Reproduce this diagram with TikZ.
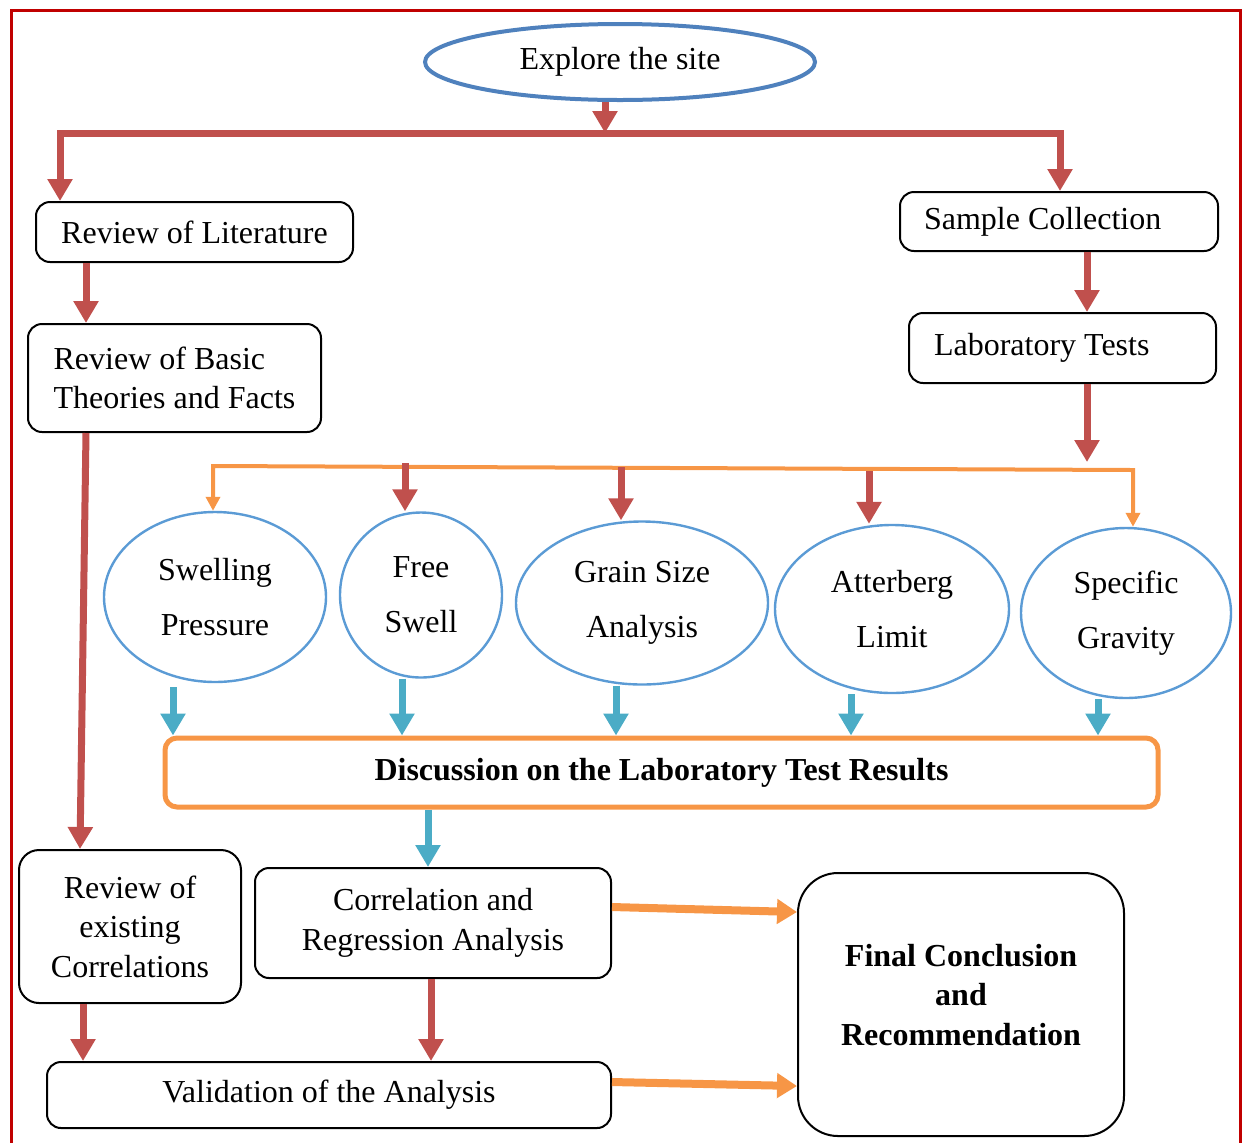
\documentclass[tikz,border=0pt]{standalone}
\usepackage{fontspec}
\setmainfont{Liberation Serif}
\usetikzlibrary{arrows.meta,positioning,shapes.geometric,calc}
\definecolor{framered}{HTML}{C00000}
\definecolor{flowred}{HTML}{C0504D}
\definecolor{floworange}{HTML}{F79646}
\definecolor{flowblue}{HTML}{4BACC6}
\definecolor{ringblue}{HTML}{5B9BD5}
\definecolor{siteblue}{HTML}{4F81BD}

\begin{document}
\begin{tikzpicture}[
  x=0.5pt, y=-0.5pt,
  font=\fontsize{16}{19.75}\selectfont,
  box/.style={rectangle, rounded corners=7pt, draw=black, line width=1pt,
    align=center, inner sep=0pt},
  bubble/.style={ellipse, draw=ringblue, line width=1.2pt, align=center,
    inner sep=0pt, font=\fontsize{16}{27.5}\selectfont},
  redarr/.style={draw=flowred, line width=3.5pt,
    -{Triangle[width=12pt,length=11pt]}},
  bluearr/.style={draw=flowblue, line width=3.5pt,
    -{Triangle[width=12pt,length=11pt]}},
  orarr/.style={draw=floworange, line width=4pt,
    -{Triangle[width=12pt,length=10pt]}},
  orline/.style={draw=floworange, line width=2pt,
    {Triangle[width=7pt,length=7pt]}-{Triangle[width=7pt,length=7pt]}},
]
  \useasboundingbox (0,0) rectangle (1246,1142);
  \draw[framered, line width=1.5pt] (11,1160) -- (11,10) -- (1240,10) -- (1240,1160);

  % top row
  \node[ellipse, draw=siteblue, line width=2pt, minimum width=195pt,
    minimum height=38pt] (site) at (620,62) {Explore the site};
  \node[box, minimum width=158.5pt, minimum height=30pt] (lit) at (194.5,232) {Review of Literature};
  \node[box, minimum width=146.5pt, minimum height=54pt, align=left] (basic) at (174.5,378) {Review of Basic\\Theories and Facts};
  \node[box, inner xsep=12pt, minimum height=29.5pt] (samp) at (1059,221.5) {\makebox[135pt][l]{Sample Collection}};
  \node[box, inner xsep=12.5pt, minimum height=35pt] (lab) at (1062.5,348) {\makebox[128.5pt][l]{Laboratory Tests}};

  % tests
  \node[bubble, minimum width=111pt, minimum height=85pt] (swell) at (215,597) {Swelling\\Pressure};
  \node[bubble, minimum width=81pt, minimum height=82.5pt] (free) at (421,595) {Free\\Swell};
  \node[bubble, minimum width=126pt, minimum height=81.5pt] (grain) at (642,603) {Grain Size\\Analysis};
  \node[bubble, minimum width=117pt, minimum height=84pt] (atter) at (892,609) {Atterberg\\Limit};
  \node[bubble, minimum width=105pt, minimum height=85pt] (spec) at (1126,613) {Specific\\Gravity};

  \node[box, draw=floworange, line width=2.5pt, rounded corners=6pt, minimum width=496.5pt,
    minimum height=34.5pt, font=\fontsize{16}{19.75}\selectfont\bfseries] (disc) at (661.5,772.5) {Discussion on the Laboratory Test Results};

  % bottom part
  \node[box, rounded corners=10pt, minimum width=111pt, minimum height=76.5pt] (exist) at (130,926.5) {Review of\\existing\\Correlations};
  \node[box, minimum width=178pt, minimum height=55pt] (corr) at (433,923) {Correlation and\\Regression Analysis};
  \node[box, minimum width=282pt, minimum height=33pt] (valid) at (329,1095) {Validation of the Analysis};
  \node[box, rounded corners=20pt, minimum width=163pt, minimum height=131.5pt,
    font=\fontsize{16}{19.75}\selectfont\bfseries] (final) at (961,1004.5) {Final Conclusion\\and\\Recommendation\\[-9.75pt]};

  % red flow
  \coordinate (split) at (605,133);
  \draw[redarr] (605,0 |- site.south) -- (split);
  \draw[redarr] (split) -| (60,0 |- lit.north);
  \draw[redarr] (split) -| (1060,0 |- samp.north);
  \draw[redarr] (86,0 |- lit.south) -- (86,0 |- basic.north);
  \draw[redarr] (86,0 |- basic.south) -- (80,0 |- exist.north);
  \draw[redarr] (1087,0 |- samp.south) -- (1087,0 |- lab.north);
  \coordinate (labend) at (1087,462);
  \draw[redarr] (1087,0 |- lab.south) -- (labend);

  % orange split to the tests
  \coordinate (obl) at (213,466);
  \coordinate (obr) at (1133,470);
  \draw[orline] (213,0 |- swell.north) -- (obl) -- (obr) -- (1133,0 |- spec.north);
  \draw[redarr] (405,463) -- (405,0 |- free.north);
  \draw[redarr] (621,467) -- (621,0 |- grain.north);
  \draw[redarr] (869,471) -- (869,0 |- atter.north);

  % blue to discussion
  \draw[bluearr] (173,687) -- (173,0 |- disc.north);
  \draw[bluearr] (402,0 |- free.south) -- (402,0 |- disc.north);
  \draw[bluearr] (616,0 |- grain.south) -- (616,0 |- disc.north);
  \draw[bluearr] (851,0 |- atter.south) -- (851,0 |- disc.north);
  \draw[bluearr] (1098,0 |- spec.south) -- (1098,0 |- disc.north);
  \draw[bluearr] (428,0 |- disc.south) -- (428,0 |- corr.north);

  \draw[redarr] (431,0 |- corr.south) -- (431,0 |- valid.north);
  \draw[redarr] (83,0 |- exist.south) -- (83,0 |- valid.north);

  \draw[orarr] (corr.east |- 0,907) -- (final.west |- 0,912);
  \draw[orarr] (valid.east |- 0,1082) -- (final.west |- 0,1086);
\end{tikzpicture}
\end{document}
